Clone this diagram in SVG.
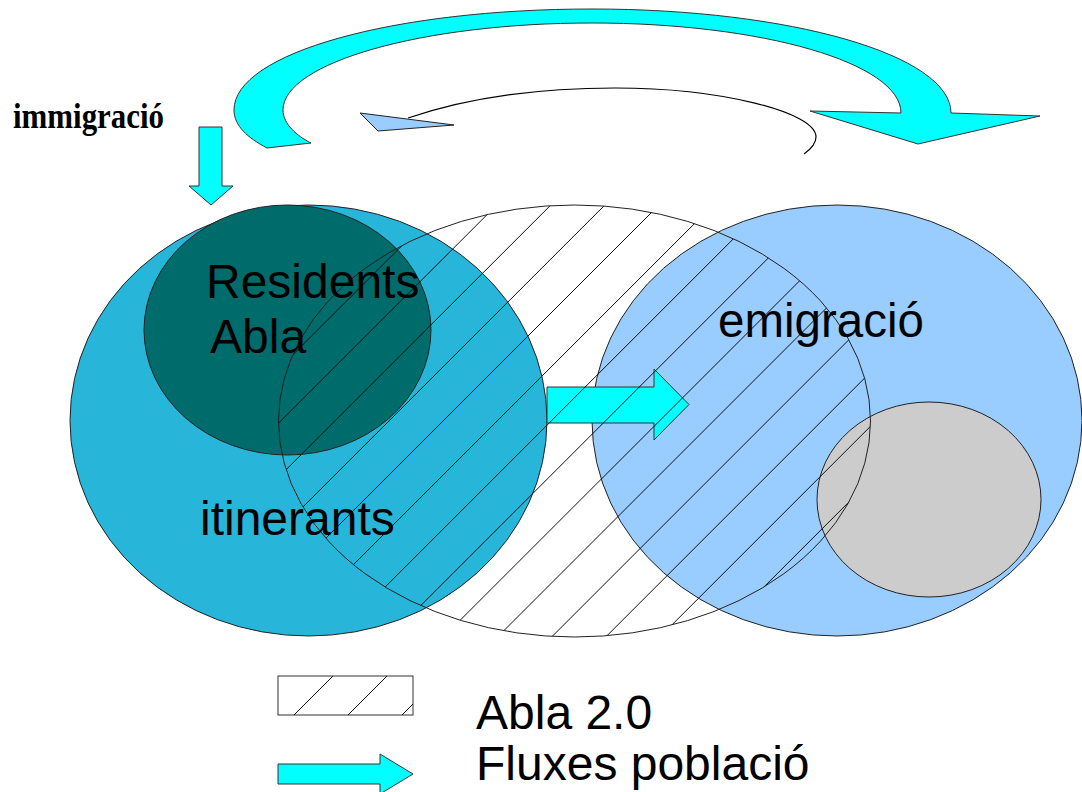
<svg xmlns="http://www.w3.org/2000/svg" width="1082" height="792" viewBox="0 0 1082 792">
<style>
.edge{stroke:#222;stroke-width:1}
.lbl{font-family:"Liberation Sans",Arial,sans-serif;fill:#000}
.hatch{stroke:#111;stroke-width:1;fill:none}
.flow{fill:#00ffff;stroke:#333;stroke-width:1}
</style>
<defs>
<clipPath id="hclip"><ellipse cx="574.5" cy="421" rx="296" ry="216"/></clipPath>
<clipPath id="lclip"><rect x="278" y="676" width="135" height="39"/></clipPath>
</defs>
<rect width="1082" height="792" fill="#fff"/>

<g id="itinerants">
<ellipse class="edge" cx="308.5" cy="420.5" rx="238.5" ry="215.5" fill="#27b6da"/>
</g>
<g id="residents">
<ellipse class="edge" cx="287.5" cy="330" rx="143.5" ry="125" fill="#006b6b"/>
</g>
<g id="emigracio">
<ellipse class="edge" cx="837" cy="420.5" rx="245" ry="215.5" fill="#99ccff"/>
</g>
<g id="grey">
<ellipse class="edge" cx="929" cy="499.5" rx="112" ry="97.5" fill="#cccccc"/>
</g>

<g id="connectors">
<path id="flow-top" class="flow" d="M267,148 C248,138 234,126 234,110 C234,53 394,9 592,9 C790,9 951,55 951,113 L1040,116 L918,144 L810,111 L901,113 C901,63 762,23 592,23 C422,23 283,63 283,110 C283,124 297,136 311,143 Z"/>
<path id="return-arc" d="M408,118 C470,97 540,88 615,88 C720,88 816,112 816,137 C816,143 811,149 804,154" fill="none" stroke="#000" stroke-width="1.2"/>
<polygon points="360,113 378,131 454,125" fill="#99ccff" stroke="#222" stroke-width="1"/>
<polygon id="flow-immigracio" class="flow" points="199,127 222,127 222,186 233,186 211,205 189,186 199,186"/>
<polygon id="flow-middle" class="flow" points="547,387 654,387 654,369 689,404.5 654,440 654,423 547,423"/>
</g>

<g id="abla20">
<g clip-path="url(#hclip)">
<path class="hatch" d="M-174.7,660 L305.3,180 M-120.6,660 L359.4,180 M-66.5,660 L413.5,180 M-12.4,660 L467.6,180 M41.7,660 L521.7,180 M95.8,660 L575.8,180 M149.9,660 L629.9,180 M204,660 L684,180 M258.1,660 L738.1,180 M312.2,660 L792.2,180 M366.3,660 L846.3,180 M420.4,660 L900.4,180 M474.5,660 L954.5,180 M528.6,660 L1008.6,180 M582.7,660 L1062.7,180 M636.8,660 L1116.8,180 M690.9,660 L1170.9,180 M745,660 L1225,180 M799.1,660 L1279.1,180 M853.2,660 L1333.2,180"/>
</g>
<ellipse cx="574.5" cy="421" rx="296" ry="216" fill="none" stroke="#222" stroke-width="1"/>
</g>

<text class="lbl" x="206" y="298" font-size="48">Residents</text>
<text class="lbl" x="210" y="353" font-size="48">Abla</text>
<text class="lbl" x="200" y="535" font-size="48">itinerants</text>
<text class="lbl" x="718" y="337" font-size="47.5">emigració</text>
<text x="13" y="128" font-family="Liberation Serif,'Times New Roman',serif" font-weight="bold" font-size="36" textLength="151" lengthAdjust="spacingAndGlyphs">immigració</text>

<g id="legend">
<rect x="278" y="676" width="135" height="39" fill="#fff" stroke="#333" stroke-width="1"/>
<g clip-path="url(#lclip)">
<path class="hatch" d="M294,715 L333,676 M348,715 L387,676 M402,715 L441,676"/>
</g>
<polygon class="flow" points="278,764 380,764 380,754 413,774 380,794 380,784 278,784"/>
<text class="lbl" x="476" y="729" font-size="48">Abla 2.0</text>
<text class="lbl" x="476" y="779.5" font-size="48">Fluxes població</text>
</g>
</svg>
